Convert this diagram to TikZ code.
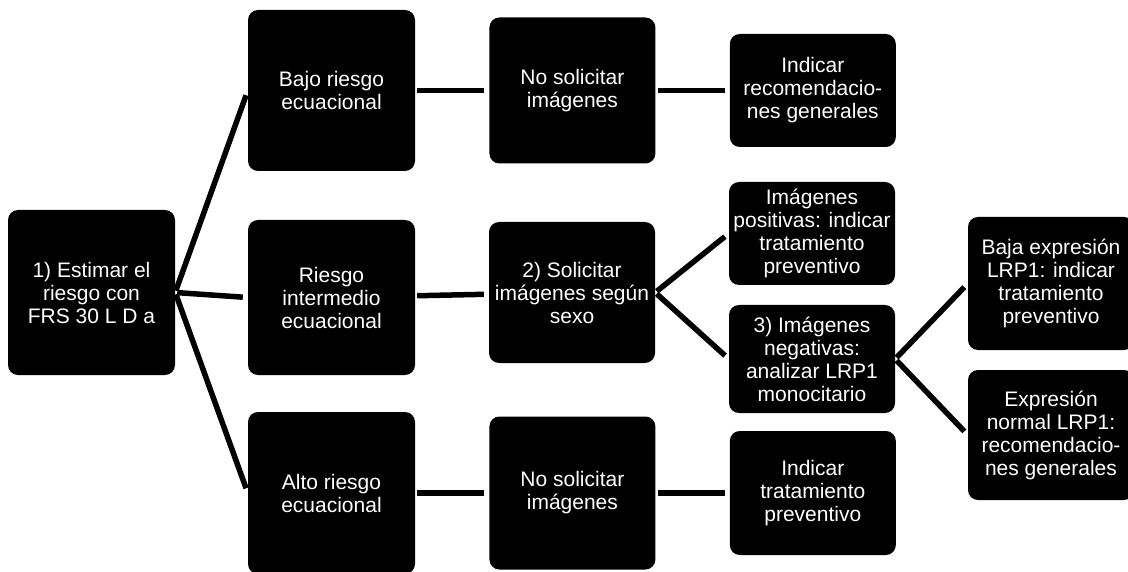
\documentclass[tikz,border=0pt]{standalone}
\usepackage{fontspec}
\setmainfont{Liberation Sans}
\usetikzlibrary{positioning}
\begin{document}
\begin{tikzpicture}[x=1pt,y=-1pt,node distance=74pt]
	\tikzstyle{box}=[rectangle,rounded corners=10pt,fill=black,text=white,align=center,inner sep=0pt,font=\fontsize{21}{23}\selectfont]
	\tikzstyle{link}=[line width=5.5pt,shorten <=2pt,shorten >=5pt]
	\useasboundingbox (0,0) rectangle (1128,572);
		\node[box, minimum width=167pt, minimum height=165pt] (root) at (91.5,292.5) {1) Estimar el\\riesgo con\\FRS 30 L D a};
		\node[box, minimum width=167pt, minimum height=161pt] (bajo) at (331.5,90.5) {Bajo riesgo\\ecuacional};
		\node[box, minimum width=167pt, minimum height=155pt] (medio) at (331.5,297.5) {Riesgo\\intermedio\\ecuacional};
		\node[box, minimum width=167pt, minimum height=162pt] (alto) at (331.5,493) {Alto riesgo\\ecuacional};
		\node[box, minimum width=166pt, minimum height=146pt] (nosol1) [right=of bajo] {No solicitar\\imágenes};
		\node[box, minimum width=166pt, minimum height=141pt] (solicitar) at (572,292.5) {2) Solicitar\\imágenes según\\sexo};
		\node[box, minimum width=166pt, minimum height=153pt] (nosol3) [right=of alto] {No solicitar\\imágenes};
		\node[box, minimum width=166pt, minimum height=113pt] (indicar1) [right=of nosol1] {Indicar\\recomendacio-\\nes generales};
		\node[box, minimum width=166pt, minimum height=103pt] (positivas) at (812,233.5) {Imágenes\\positivas: indicar\\tratamiento\\preventivo};
		\node[box, minimum width=166pt, minimum height=108pt] (negativas) at (812,359) {3) Imágenes\\negativas:\\analizar LRP1\\monocitario};
		\node[box, minimum width=166pt, minimum height=124pt] (indicar3) [right=of nosol3] {Indicar\\tratamiento\\preventivo};
		\node[box, minimum width=166pt, minimum height=133pt] (baja) at (1051,283.5) {Baja expresión\\LRP1: indicar\\tratamiento\\preventivo};
		\node[box, minimum width=166pt, minimum height=130pt] (normal) at (1051,435) {Expresión\\normal LRP1:\\recomendacio-\\nes generales};
			\draw[link] (root.east) edge (bajo.west);
			\draw[link] (root.east) edge (medio.west);
			\draw[link] (root.east) edge (alto.west);
			\draw[link] (bajo) edge (nosol1);
			\draw[link] (nosol1) edge (indicar1);
			\draw[link] (medio) edge (solicitar);
			\draw[link] (alto) edge (nosol3);
			\draw[link] (nosol3) edge (indicar3);
			\draw[link] (solicitar.east) edge (positivas.west);
			\draw[link] (solicitar.east) edge (negativas.west);
			\draw[link] (negativas.east) edge (baja.west);
			\draw[link] (negativas.east) edge (normal.west);
\end{tikzpicture}
\end{document}
